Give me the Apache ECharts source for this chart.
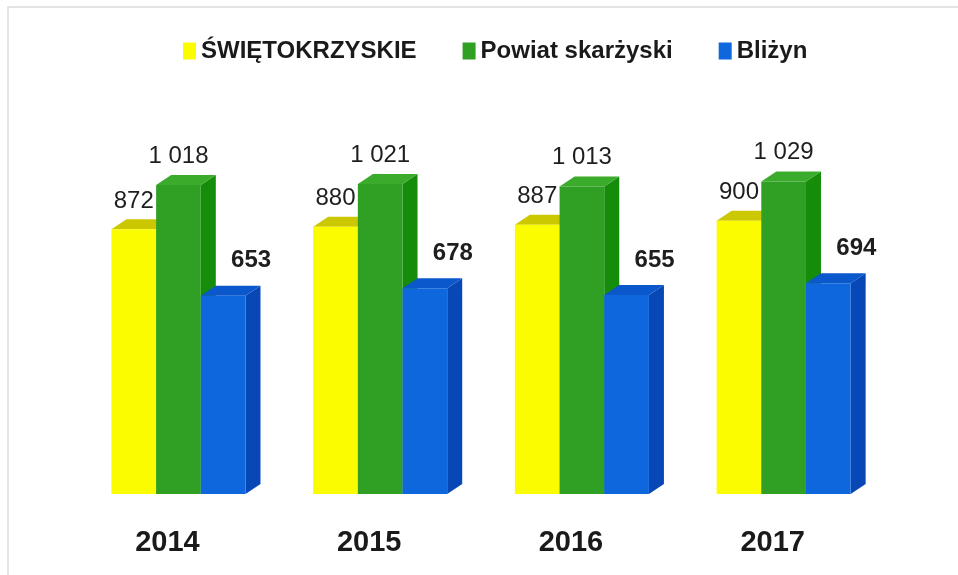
<!DOCTYPE html>
<html>
<head>
<meta charset="utf-8">
<script src="https://cdn.jsdelivr.net/npm/echarts@6/dist/echarts.min.js"></script>
<style>
  html, body { margin: 0; padding: 0; background: #fff; }
  #chart { width: 958px; height: 575px; }
</style>
</head>
<body>
<div id="chart"></div>
<script>
const years = ['2014', '2015', '2016', '2017']
const swietokrzyskie = [872, 880, 887, 900]
const powiat = [1018, 1021, 1013, 1029]
const blizyn = [653, 678, 655, 694]

// kolory: przód, góra, bok
const palette = [
  { front: '#fcfc00', top: '#cbc700', side: '#d8d800' },
  { front: '#30a024', top: '#3aab2b', side: '#158c0a' },
  { front: '#0f67dd', top: '#0b57cc', side: '#0848b6' },
]

const labelCfg = [
  { dx: 0, gap: 6, weight: 'normal' },
  { dx: 0, gap: 7, weight: 'normal' },
  { dx: 28, gap: 13, weight: 'bold' },
]

const DX = 15
const DY = 10

const fmt = v => String(v).replace(/\B(?=(\d{3})+(?!\d))/g, ' ')

function bar3d(idx) {
  return (params, api) => {
    const cat = api.value(0)
    const val = api.value(1)
    const base = api.coord([cat, 0])
    const top = api.coord([cat, val])
    const band = api.size([1, 0])[0]
    const w = band * 0.2215
    const x0 = base[0] - 1.5 * w + idx * w
    const c = palette[idx]
    const l = labelCfg[idx]
    return {
      type: 'group',
      children: [
        {
          type: 'polygon',
          shape: { points: [[x0 + w, top[1]], [x0 + w + DX, top[1] - DY], [x0 + w + DX, base[1] - DY], [x0 + w, base[1]]] },
          style: { fill: c.side },
        },
        {
          type: 'polygon',
          shape: { points: [[x0, top[1]], [x0 + DX, top[1] - DY], [x0 + w + DX, top[1] - DY], [x0 + w, top[1]]] },
          style: { fill: c.top },
        },
        {
          type: 'rect',
          shape: { x: x0, y: top[1], width: w, height: base[1] - top[1] },
          style: { fill: c.front },
        },
        {
          type: 'text',
          style: {
            text: fmt(val),
            x: x0 + w / 2 + l.dx,
            y: top[1] - DY - l.gap,
            align: 'center',
            verticalAlign: 'bottom',
            fill: '#1e1e1e',
            font: l.weight + ' 24px "Liberation Sans", Arial, sans-serif',
          },
        },
      ],
    }
  }
}

const chart = echarts.init(document.getElementById('chart'))

const names = ['ŚWIĘTOKRZYSKIE', 'Powiat skarżyski', 'Bliżyn']
const values = [swietokrzyskie, powiat, blizyn]

chart.setOption({
  backgroundColor: '#fff',
  animation: false,
  graphic: [
    {
      type: 'rect',
      shape: { x: 8, y: 7, width: 980, height: 600 },
      style: { fill: 'none', stroke: '#dcdcdc', lineWidth: 1.5 },
      silent: true,
    },
  ],
  legend: {
    data: names,
    left: 178,
    top: 34,
    icon: 'rect',
    itemWidth: 13,
    itemHeight: 17,
    itemGap: 46,
    textStyle: {
      fontFamily: '"Liberation Sans", Arial, sans-serif',
      fontWeight: 'bold',
      fontSize: 24,
      color: '#1a1a1a',
    },
  },
  grid: { left: 77.6, right: 73.5, top: 160, bottom: 81 },
  xAxis: {
    type: 'category',
    data: years,
    axisLine: { show: false },
    axisTick: { show: false },
    axisLabel: {
      margin: 34,
      padding: [0, 22, 0, 0],
      fontFamily: '"Liberation Sans", Arial, sans-serif',
      fontWeight: 'bold',
      fontSize: 29,
      color: '#1a1a1a',
    },
  },
  yAxis: { type: 'value', min: 0, max: 1100, show: false },
  series: names.map((name, i) => ({
    name,
    type: 'custom',
    renderItem: bar3d(i),
    itemStyle: { color: palette[i].front },
    encode: { x: 0, y: 1 },
    data: values[i].map((v, j) => [j, v]),
  })),
})
</script>
</body>
</html>
